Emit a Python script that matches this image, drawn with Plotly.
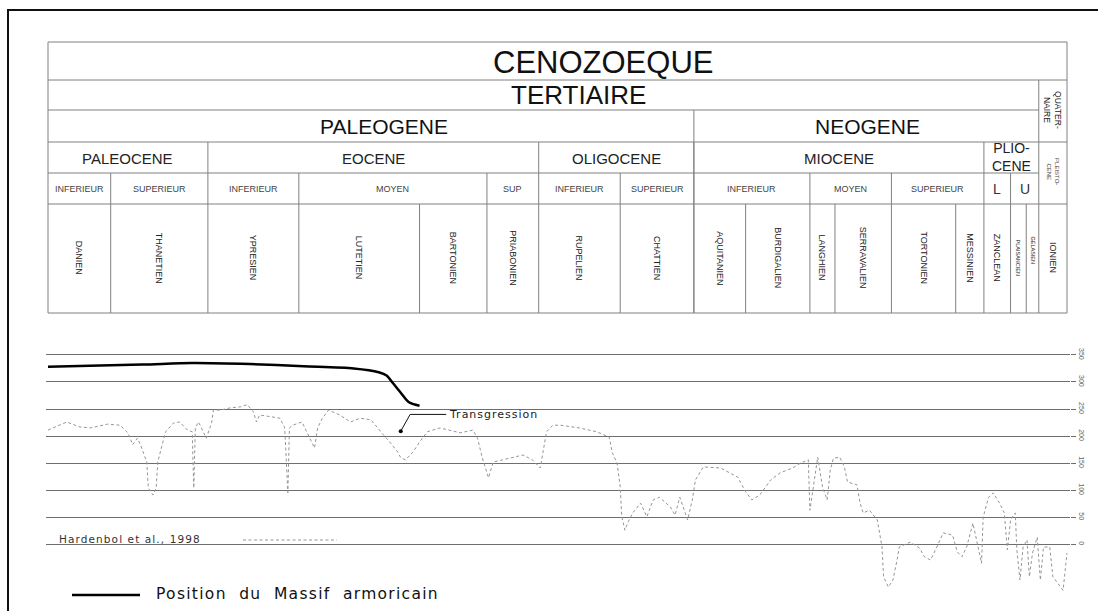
import plotly.graph_objects as go

# ---------------- DATA ----------------
# Stages (ages in Ma, boundaries from old to young)
stage_names = ["DANIEN", "THANETIEN", "YPRESIEN", "LUTETIEN", "BARTONIEN", "PRIABONIEN",
               "RUPELIEN", "CHATTIEN", "AQUITANIEN", "BURDIGALIEN", "LANGHIEN", "SERRAVALIEN",
               "TORTONIEN", "MESSINIEN", "ZANCLEAN", "PLAISANCIEN", "GELASIEN", "IONIEN"]
stage_bounds = [65, 61, 54.8, 49, 41.3, 37, 33.7, 28.5, 23.8, 20.5, 16.4, 14.8,
                11.2, 7.1, 5.3, 3.6, 2.6, 1.8, 0]

sub_names = ["INFERIEUR", "SUPERIEUR", "INFERIEUR", "MOYEN", "SUP", "INFERIEUR",
             "SUPERIEUR", "INFERIEUR", "MOYEN", "SUPERIEUR", "L", "U"]
sub_bounds = [65, 61, 54.8, 49, 37, 33.7, 28.5, 23.8, 16.4, 11.2, 5.3, 3.6, 1.8]

epoch_names = ["PALEOCENE", "EOCENE", "OLIGOCENE", "MIOCENE", "PLIO-<br>CENE"]
epoch_bounds = [65, 54.8, 33.7, 23.8, 5.3, 1.8]

period_names = ["PALEOGENE", "NEOGENE"]
period_bounds = [65, 23.8, 1.8]

quaternary_bounds = [1.8, 0]

# Sea level curve (Hardenbol et al., 1998), age in Ma, level in m
sl_age = [65.0, 63.8, 63.0, 62.3, 61.2, 60.4, 59.9, 59.6, 59.3, 59.1,
          58.7, 58.6, 58.3, 58.1, 58.0, 57.7, 57.5, 57.0, 56.6, 56.1,
          55.8, 55.75, 55.7, 55.6, 55.4, 55.1, 54.9, 54.55, 54.45, 54.0,
          53.4, 52.7, 52.3, 51.9, 51.7, 51.5, 50.8, 50.2, 49.9, 49.8,
          49.7, 49.6, 49.4, 48.8, 48.5, 48.2, 48.0, 47.8, 47.5, 47.1,
          46.4, 45.7, 45.1, 44.4, 44.0, 43.6, 43.2, 42.7, 42.5, 42.2,
          41.7, 41.3, 40.8, 40.0, 38.7, 37.9, 37.6, 37.3, 36.9, 36.6,
          36.0, 35.3, 34.7, 34.1, 33.6, 33.2, 32.8, 32.3, 31.1, 30.0,
          29.2, 29.0, 28.7, 28.5, 28.4, 28.2, 28.0, 27.7, 27.2, 26.8,
          26.4, 26.0, 25.3, 25.0, 24.7, 24.2, 23.9, 23.7, 23.2, 22.1,
          21.0, 20.5, 20.1, 19.6, 18.9, 18.3, 17.5, 17.0, 16.5, 16.4,
          16.2, 15.9, 15.6, 15.3, 15.1, 14.9, 14.5, 14.2, 14.0, 13.4,
          13.2, 13.0, 12.6, 12.1, 11.8, 11.7, 11.4, 11.1, 10.8, 10.7,
          10.0, 9.4, 9.1, 8.7, 8.3, 7.9, 7.3, 7.0, 6.7, 6.4,
          6.0, 5.7, 5.45, 5.35, 5.0, 4.7, 4.3, 4.0, 3.8, 3.6,
          3.3, 3.2, 3.0, 2.8, 2.55, 2.4, 2.2, 1.9, 1.7, 1.5,
          1.1, 0.9, 0.45, 0.25, 0.0]
sl_level = [211, 226, 217, 215, 222, 220, 206, 184, 196, 184,
            152, 104, 91, 104, 152, 184, 208, 224, 226, 211,
            208, 152, 104, 215, 226, 208, 196, 226, 248, 248,
            252, 254, 258, 245, 226, 239, 235, 233, 215, 152,
            95, 215, 220, 226, 208, 189, 178, 215, 233, 248,
            239, 226, 233, 230, 215, 202, 189, 171, 160, 156,
            171, 189, 208, 215, 206, 211, 196, 160, 123, 152,
            156, 161, 165, 156, 141, 208, 220, 220, 215, 208,
            198, 169, 150, 106, 51, 26, 41, 58, 76, 51,
            82, 87, 69, 54, 87, 45, 82, 119, 143, 141,
            124, 97, 82, 91, 119, 132, 141, 150, 156, 63,
            106, 161, 106, 82, 137, 159, 161, 143, 115, 110,
            76, 58, 63, 45, -5, -60, -79, -66, -23, -5,
            4, -7, -23, -29, -5, 21, 17, -14, -23, -5,
            39, -5, -35, 50, 87, 95, 76, 58, -10, 45,
            58, -10, -66, -5, 8, -60, -16, 13, -66, -5,
            -5, -60, -79, -85, -16]

# Position du Massif armoricain
ma_age = [65.0, 59.0, 55.8, 52.1, 48.7, 45.5, 43.9, 43.4, 43.0, 42.5, 42.0, 41.3]
ma_level = [328, 332, 335, 333, 329, 325, 318, 312, 298, 280, 263, 256]

# Transgression marker
transg_age = [42.5]
transg_level = [209]

level_ticks = [0, 50, 100, 150, 200, 250, 300, 350]
level_labels = [str(v) for v in level_ticks]

# ---------------- LAYOUT HELPERS ----------------
W, H = 1098, 611
PX_PER_MA = 15.677
LEFT_PX, RIGHT_PX = 46, 1070
x_range = [65 + (48 - LEFT_PX) / PX_PER_MA, 0 - (RIGHT_PX - 1067) / PX_PER_MA]

def py(p):
    return 1 - p / H

def ppx(p):
    return p / W

# table rows (pixel y)
R_TOP, R1, R2, R3, R4, R5, R_BOT = 42, 80, 110, 142, 173, 204, 313
LINE = dict(color="#808080", width=1)
FONT = "Liberation Sans, Arial, sans-serif"
TXT = "#222"

shapes = []
annotations = []

def hline(a0, a1, yp, line=LINE):
    shapes.append(dict(type="line", xref="x", yref="paper", x0=a0, x1=a1,
                       y0=py(yp), y1=py(yp), line=line, layer="above"))

def vline(a, y0p, y1p, line=LINE):
    shapes.append(dict(type="line", xref="x", yref="paper", x0=a, x1=a,
                       y0=py(y0p), y1=py(y1p), line=line, layer="above"))

def label(a, yp, text, size, angle=0, color=TXT, xref="x"):
    annotations.append(dict(x=a, y=py(yp), xref=xref, yref="paper", text=text,
                            showarrow=False, textangle=angle,
                            font=dict(family=FONT, size=size, color=color),
                            xanchor="center", yanchor="middle"))

# outer table box
shapes.append(dict(type="rect", xref="x", yref="paper", x0=stage_bounds[0], x1=stage_bounds[-1],
                   y0=py(R_BOT), y1=py(R_TOP), line=LINE, layer="above"))
hline(stage_bounds[0], stage_bounds[-1], R1)
hline(stage_bounds[0], quaternary_bounds[0], R2)
hline(stage_bounds[0], stage_bounds[-1], R3)
hline(stage_bounds[0], quaternary_bounds[0], R4)
hline(stage_bounds[0], stage_bounds[-1], R5)

vline(quaternary_bounds[0], R1, R_BOT)
for b in period_bounds[1:-1]:
    vline(b, R2, R_BOT)
for b in epoch_bounds[1:-1]:
    vline(b, R3, R_BOT)
for b in sub_bounds[1:-1]:
    if b not in epoch_bounds and b not in period_bounds:
        vline(b, R4, R_BOT)
for b in stage_bounds[1:-1]:
    if b not in sub_bounds:
        vline(b, R5, R_BOT)

# headers
label(ppx(603), 62, "CENOZOEQUE", 31, xref="paper", color="#111")
label(ppx(578), 95, "TERTIAIRE", 26, xref="paper", color="#111")
label(ppx(384), 127, period_names[0], 21, xref="paper", color="#111")
label(ppx(867), 127, period_names[1], 21, xref="paper", color="#111")

for i, n in enumerate(epoch_names):
    c = (epoch_bounds[i] + epoch_bounds[i + 1]) / 2
    if i == len(epoch_names) - 1:
        annotations.append(dict(x=c, y=py(157), xref="x", yref="paper",
                                text='<span style="line-height:0.9">' + n + '</span>',
                                showarrow=False, font=dict(family=FONT, size=14, color=TXT),
                                xanchor="center", yanchor="middle"))
    else:
        label(c, 158, n, 15)

for i, n in enumerate(sub_names):
    c = (sub_bounds[i] + sub_bounds[i + 1]) / 2
    label(c, 189, n, 14 if len(n) == 1 else 9, color="#333" if len(n) == 1 else "#444")

for i, n in enumerate(stage_names):
    c = (stage_bounds[i] + stage_bounds[i + 1]) / 2
    sz = 5.5 if n in ("PLAISANCIEN", "GELASIEN") else 9
    yy = 250 if n == "GELASIEN" else 258
    label(c, yy, n, sz, angle=90, color="#222")

qc = sum(quaternary_bounds) / 2
label(qc, 110, "QUATER-<br>NAIRE", 8.5, angle=90, color="#222")
label(qc, 172, "PLEISTO-<br>CENE", 6, angle=90, color="#444")

# outer page frame
shapes.append(dict(type="line", xref="paper", yref="paper", x0=ppx(7), x1=1,
                   y0=py(10), y1=py(10), line=dict(color="#111", width=2)))
shapes.append(dict(type="line", xref="paper", yref="paper", x0=ppx(8), x1=ppx(8),
                   y0=py(10), y1=0, line=dict(color="#111", width=2)))

# ---------------- TRACES ----------------
fig = go.Figure()
fig.add_trace(go.Scatter(x=sl_age, y=sl_level, mode="lines",
                         line=dict(color="#959595", width=1, dash="3px,2.5px"),
                         showlegend=False, hoverinfo="skip"))
fig.add_trace(go.Scatter(x=ma_age, y=ma_level, mode="lines",
                         line=dict(color="#000", width=2.5, shape="spline", smoothing=0.8),
                         showlegend=False, hoverinfo="skip"))
# transgression marker with leader
fig.add_trace(go.Scatter(x=[transg_age[0], transg_age[0] - 0.6, transg_age[0] - 2.9],
                         y=[transg_level[0], transg_level[0] + 31, transg_level[0] + 31],
                         mode="lines", line=dict(color="#111", width=1),
                         showlegend=False, hoverinfo="skip"))
fig.add_trace(go.Scatter(x=transg_age, y=transg_level, mode="markers",
                         marker=dict(color="#000", size=4),
                         showlegend=False, hoverinfo="skip"))
annotations.append(dict(x=transg_age[0] - 2.95, y=transg_level[0] + 31, xref="x", yref="y",
                        text='<span style="letter-spacing:1px">Transgression</span>',
                        showarrow=False, xanchor="left", yanchor="middle",
                        font=dict(family="DejaVu Sans", size=11, color="#222")))

# legend-like labels
annotations.append(dict(x=ppx(57), y=py(539), xref="paper", yref="paper",
                        text='<span style="letter-spacing:1.1px">Hardenbol et al., 1998</span>',
                        showarrow=False, xanchor="left", yanchor="middle",
                        font=dict(family="DejaVu Sans", size=10.5, color="#333")))
shapes.append(dict(type="line", xref="paper", yref="paper", x0=ppx(243), x1=ppx(337),
                   y0=py(540), y1=py(540), line=dict(color="#959595", width=1, dash="3px,2.5px")))
shapes.append(dict(type="line", xref="paper", yref="paper", x0=ppx(72), x1=ppx(140),
                   y0=py(595), y1=py(595), line=dict(color="#000", width=2.5)))
annotations.append(dict(x=ppx(154), y=py(594), xref="paper", yref="paper",
                        text='<span style="letter-spacing:1.3px">Position&nbsp; du&nbsp; Massif&nbsp; armoricain</span>',
                        showarrow=False, xanchor="left", yanchor="middle",
                        font=dict(family="DejaVu Sans", size=15.5, color="#111")))

# y axis mapping: value 0 at pixel 544.3, 0.5412 px per m
Y0_PX, PX_PER_M = 544.3, 0.5412
y_lo, y_hi = -120, 380
ydom = [1 - (Y0_PX - y_lo * PX_PER_M) / H, 1 - (Y0_PX - y_hi * PX_PER_M) / H]

fig.update_layout(
    width=W, height=H, margin=dict(l=0, r=0, t=0, b=0),
    paper_bgcolor="white", plot_bgcolor="white",
    xaxis=dict(domain=[ppx(LEFT_PX), ppx(RIGHT_PX)], range=x_range, visible=False,
               showgrid=False, zeroline=False),
    yaxis=dict(domain=ydom, range=[y_lo, y_hi], side="right", showgrid=True,
               gridcolor="#6e6e6e", gridwidth=1, zeroline=False, showline=False,
               tickvals=level_ticks, ticktext=level_labels, ticks="outside",
               ticklen=5, tickcolor="#6e6e6e", tickangle=90,
               tickfont=dict(family=FONT, size=7, color="#666")),
    shapes=shapes, annotations=annotations, showlegend=False,
)

fig.write_html("out.html", config={"displayModeBar": False},
               post_script="document.body.style.margin='0';document.body.style.overflow='hidden';")
